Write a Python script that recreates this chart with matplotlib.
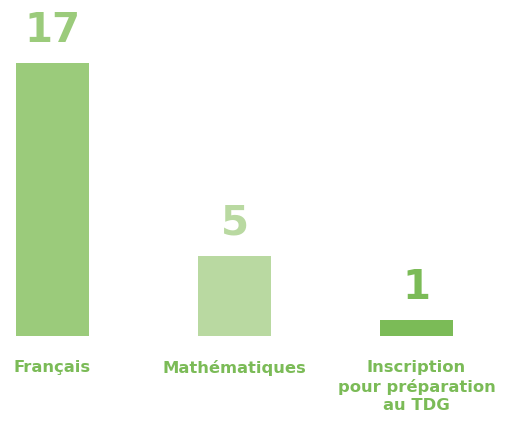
import matplotlib
matplotlib.use("Agg")
import matplotlib.pyplot as plt

# data
categories = ["Français", "Mathématiques", "Inscription\npour préparation\nau TDG"]
values = [17, 5, 1]
bar_colors = ["#9bcb7b", "#b9d9a1", "#7bbb57"]
label_color = "#7bbb57"

fig = plt.figure(figsize=(5.06, 4.21), dpi=100)
ax = fig.add_axes([0, 0, 1, 1])

idx = list(range(len(categories)))
ax.bar(idx, values, width=0.4, color=bar_colors)

ax.set_xlim(-0.2885, 2.4918)
ax.set_ylim(-5.29, 20.92)
ax.axis("off")

for i, v in enumerate(values):
    # value above bar
    ax.annotate(str(v), (i, v), xytext=(0, 15), textcoords="offset points",
                ha="center", va="baseline", fontsize=29, fontweight="heavy",
                color=bar_colors[i], family="DejaVu Sans")
    # category below the bars
    ax.annotate(categories[i], (i, 0), xytext=(0, -17), textcoords="offset points",
                ha="center", va="top", fontsize=11.8, fontweight="bold",
                color=label_color, family="DejaVu Sans", linespacing=1.3)

fig.savefig("out.png", dpi=100)
